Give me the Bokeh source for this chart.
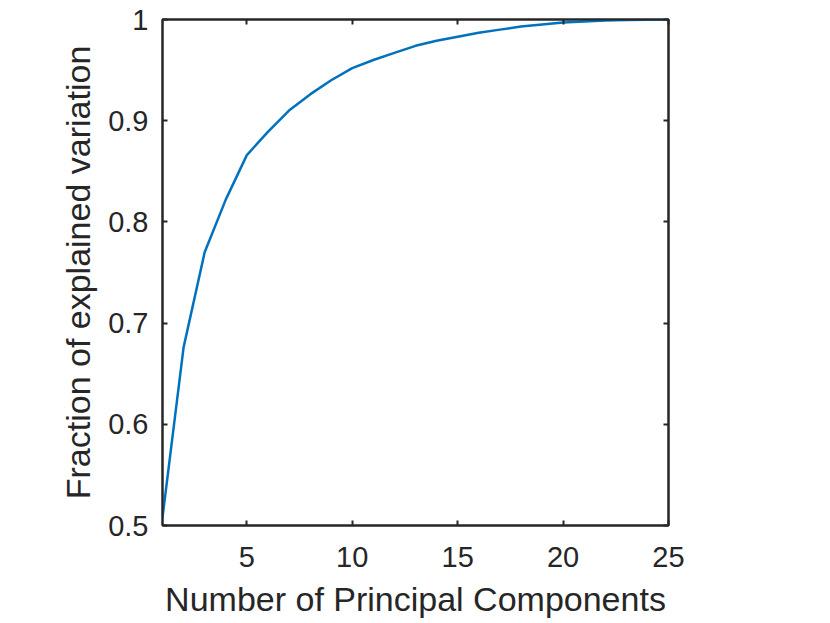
from bokeh.plotting import figure
from bokeh.models import LinearAxis, FixedTicker, Range1d
from bokeh.embed import file_html
from bokeh.resources import INLINE

# Data
components = list(range(1, 26))
explained = [0.508, 0.676, 0.770, 0.822, 0.866, 0.889, 0.910, 0.926, 0.940, 0.952,
             0.960, 0.967, 0.974, 0.979, 0.983, 0.987, 0.990, 0.993, 0.995, 0.997,
             0.998, 0.999, 0.9995, 0.9998, 1.0]
x_ticks = [5, 10, 15, 20, 25]
y_ticks = [0.5, 0.6, 0.7, 0.8, 0.9, 1.0]
y_tick_labels = {0.5: "0.5", 0.6: "0.6", 0.7: "0.7", 0.8: "0.8", 0.9: "0.9", 1: "1"}

FONT = "Liberation Sans"
TXT = "#262626"

p = figure(width=828, height=622, output_backend="svg", toolbar_location=None,
           x_range=Range1d(1, 25), y_range=Range1d(0.5, 1.0),
           x_axis_location=None, y_axis_location=None,
           min_border_left=162, min_border_right=160, min_border_top=19, min_border_bottom=97)
p.background_fill_color = "white"
p.border_fill_color = "white"
p.outline_line_color = TXT
p.outline_line_width = 2
p.xgrid.visible = False
p.ygrid.visible = False

p.line(components, explained, line_color="#0072BD", line_width=2.5)

def style(ax, ticks, show_labels):
    ax.ticker = FixedTicker(ticks=ticks)
    ax.axis_line_color = TXT
    ax.axis_line_width = 2
    ax.major_tick_line_color = TXT
    ax.major_tick_line_width = 2
    ax.major_tick_in = 5
    ax.major_tick_out = 0
    ax.minor_tick_line_color = None
    ax.major_label_text_font = FONT
    ax.major_label_text_color = TXT
    ax.major_label_text_font_size = "29px"
    if not show_labels:
        ax.major_label_overrides = {t: "" for t in ticks}
        ax.major_label_standoff = 0
    ax.axis_label_text_font = FONT
    ax.axis_label_text_font_style = "normal"
    ax.axis_label_text_color = TXT
    ax.axis_label_text_font_size = "34px"

xb = LinearAxis(axis_label="Number of Principal Components")
style(xb, x_ticks, True)
xb.major_label_standoff = 21
xb.axis_label_standoff = 10
p.add_layout(xb, "below")

yl = LinearAxis(axis_label="Fraction of explained variation")
style(yl, y_ticks, True)
yl.major_label_overrides = y_tick_labels
yl.major_label_standoff = 14
yl.axis_label_standoff = 8
p.add_layout(yl, "left")

xa = LinearAxis()
style(xa, x_ticks, False)
p.add_layout(xa, "above")

yr = LinearAxis()
style(yr, y_ticks, False)
p.add_layout(yr, "right")

open("out.html", "w").write(file_html(p, INLINE))
